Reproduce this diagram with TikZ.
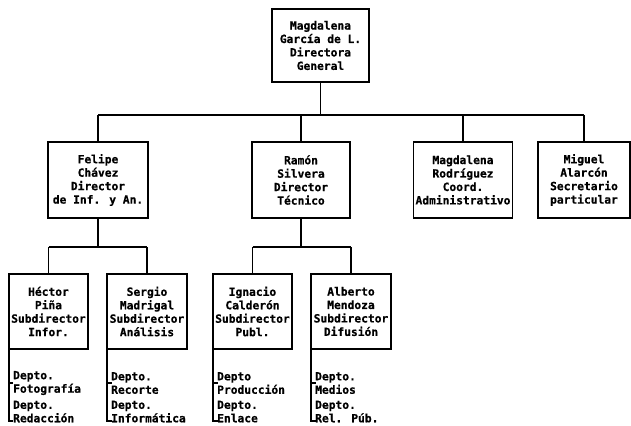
\documentclass[tikz,border=0pt]{standalone}
\usepackage{fontspec}
\newfontfamily\orgfont{DejaVu Sans Mono}[FakeBold=0.6]
\begin{document}
\begin{tikzpicture}[x=1bp,y=-1bp,
  txt/.style={font=\orgfont\bfseries\fontsize{11.3}{13.5}\selectfont},
  box/.style={txt,draw,line width=1.2bp,rectangle,inner sep=0pt,align=center},
  dept/.style={txt,inner sep=0pt,align=left,anchor=west},
  conn/.style={line width=1.2bp},
  tick/.style={line width=1.1bp}]
\useasboundingbox (0,0) rectangle (631,425);

% top
\node[box,minimum width=97bp,minimum height=73bp] (top) at (320.5,45.5) {Magdalena\\García de L.\\Directora\\General};

% level 2
\node[box,minimum width=100bp,minimum height=76bp] (felipe) at (98,180) {Felipe\\Chávez\\Director\\de Inf. y An.};
\node[box,minimum width=98bp,minimum height=76bp] (ramon) at (301,180) {Ramón\\Silvera\\Director\\Técnico};
\node[box,minimum width=99bp,minimum height=76bp] (magr) at (463,180) {Magdalena\\Rodríguez\\Coord.\\Administrativo};
\node[box,minimum width=92bp,minimum height=76bp] (miguel) at (584,180) {Miguel\\Alarcón\\Secretario\\particular};

% level 3
\node[box,minimum width=79bp,minimum height=75bp] (hector) at (48.5,311.5) {Héctor\\Piña\\Subdirector\\Infor.};
\node[box,minimum width=80bp,minimum height=75bp] (sergio) at (147,311.5) {Sergio\\Madrigal\\Subdirector\\Análisis};
\node[box,minimum width=79bp,minimum height=75bp] (ignacio) at (252.5,311.5) {Ignacio\\Calderón\\Subdirector\\Publ.};
\node[box,minimum width=80bp,minimum height=75bp] (alberto) at (351,311.5) {Alberto\\Mendoza\\Subdirector\\Difusión};

% departments
\node[dept] (h1) at (13,383) {Depto.\\Fotografía};
\node[dept] (h2) at (13,411.5) {Depto.\\Redacción};
\node[dept] (s1) at (111,383) {Depto.\\Recorte};
\node[dept] (s2) at (111,411.5) {Depto.\\Informática};
\node[dept] (i1) at (217,383) {Depto\\Producción};
\node[dept] (i2) at (217,411.5) {Depto.\\Enlace};
\node[dept] (a1) at (315,383) {Depto.\\Medios};
\node[dept] (a2) at (315,411.5) {Depto.\\Rel. Púb.};

% buses
\coordinate (bus1) at (0,115);
\coordinate (bus2) at (0,247);

\draw[conn] (top.south) -- (top.south |- bus1);
\draw[conn] (felipe.north |- bus1) -- (miguel.north |- bus1);
\foreach \n in {felipe,ramon,magr,miguel}
  \draw[conn] (\n.north |- bus1) -- (\n.north);

\draw[conn] (felipe.south) -- (felipe.south |- bus2);
\draw[conn] (hector.north |- bus2) -- (sergio.north |- bus2);
\draw[conn] (hector.north |- bus2) -- (hector.north);
\draw[conn] (sergio.north |- bus2) -- (sergio.north);

\draw[conn] (ramon.south) -- (ramon.south |- bus2);
\draw[conn] (ignacio.north |- bus2) -- (alberto.north |- bus2);
\draw[conn] (ignacio.north |- bus2) -- (ignacio.north);
\draw[conn] (alberto.north |- bus2) -- (alberto.north);

% department brackets
\coordinate (bend) at (0,421);
\foreach \b/\da/\db in {hector/h1/h2,sergio/s1/s2,ignacio/i1/i2,alberto/a1/a2}{
  \draw[tick] ([xshift=0.6bp]\b.south west) -- ([xshift=0.6bp]\b.south west |- bend) -- ++(4.5,0);
  \draw[tick] ([xshift=0.6bp]\b.south west |- \da.center) -- ++(4.5,0);
}
\end{tikzpicture}
\end{document}
